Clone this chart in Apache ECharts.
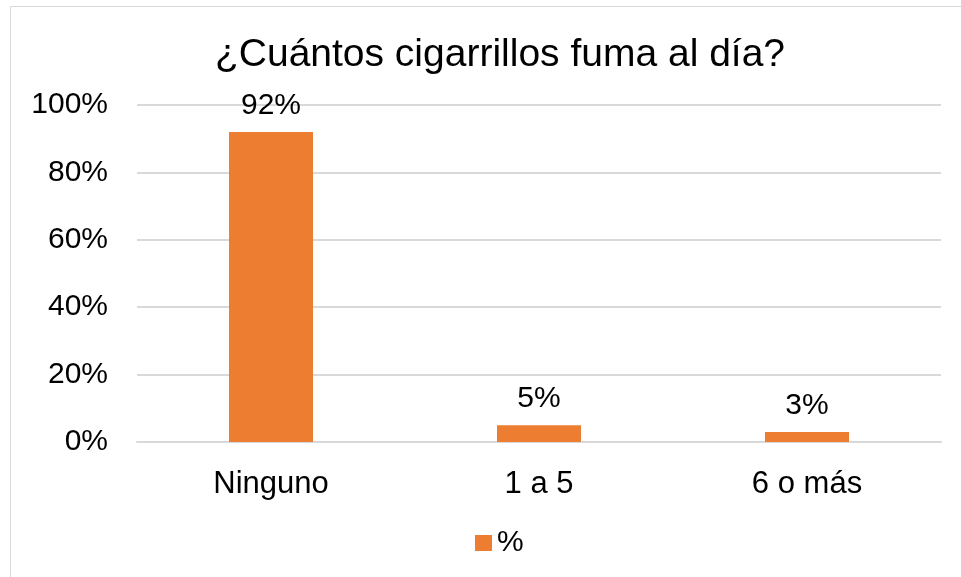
<!DOCTYPE html>
<html><head><meta charset="utf-8">
<script src="https://cdn.jsdelivr.net/npm/echarts@6/dist/echarts.min.js"></script>
<style>html,body{margin:0;padding:0;background:#fff}#c{width:961px;height:577px}</style>
</head><body><div id="c"></div>
<script>
const categories = ['Ninguno', '1 a 5', '6 o más'];
const values = [92, 5, 3];
const yTicks = [0, 20, 40, 60, 80, 100];
const seriesName = '%';
const titleText = '¿Cuántos cigarrillos fuma al día?';

const chart = echarts.init(document.getElementById('c'));
const font = 'Liberation Sans, Arial, sans-serif';
chart.setOption({
  animation: false,
  graphic: [{type:'rect', shape:{x:10.5,y:6.5,width:1000,height:1000}, style:{fill:'none', stroke:'#D9D9D9', lineWidth:1}}],
  title: {text: titleText, left: 495, textAlign: 'center', top: 31,
    textStyle: {fontFamily: font, fontSize: 39, fontWeight: 'normal', color: '#000'}},
  legend: {data:[seriesName], left: 470, top: 523, itemWidth: 17, itemHeight: 16, itemGap: 8, icon: 'rect',
    textStyle: {fontFamily: font, fontSize: 30, color:'#000'}},
  grid: {left: 137, right: 20, top: 105, bottom: 135, containLabel: false},
  xAxis: {type:'category', data: categories,
    axisLine: {lineStyle:{color:'#D9D9D9', width:2}}, axisTick:{show:false},
    axisLabel: {fontFamily: font, fontSize: 31, color:'#000', margin: 27}},
  yAxis: {type:'value', min: yTicks[0], max: yTicks[yTicks.length-1], interval: 20,
    axisLine:{show:false}, axisTick:{show:false},
    splitLine:{lineStyle:{color:'#D9D9D9', width:2}},
    axisLabel:{fontFamily: font, fontSize: 30, color:'#000', margin: 29, formatter: v => v + '%'}},
  series: [{name: seriesName, type:'bar', data: values, barWidth: 84,
    itemStyle:{color:'#ED7D31'},
    label:{show:true, position:'top', distance: 11, formatter: p => p.value + '%',
      fontFamily: font, fontSize: 30, color:'#000'}}]
});
</script></body></html>
